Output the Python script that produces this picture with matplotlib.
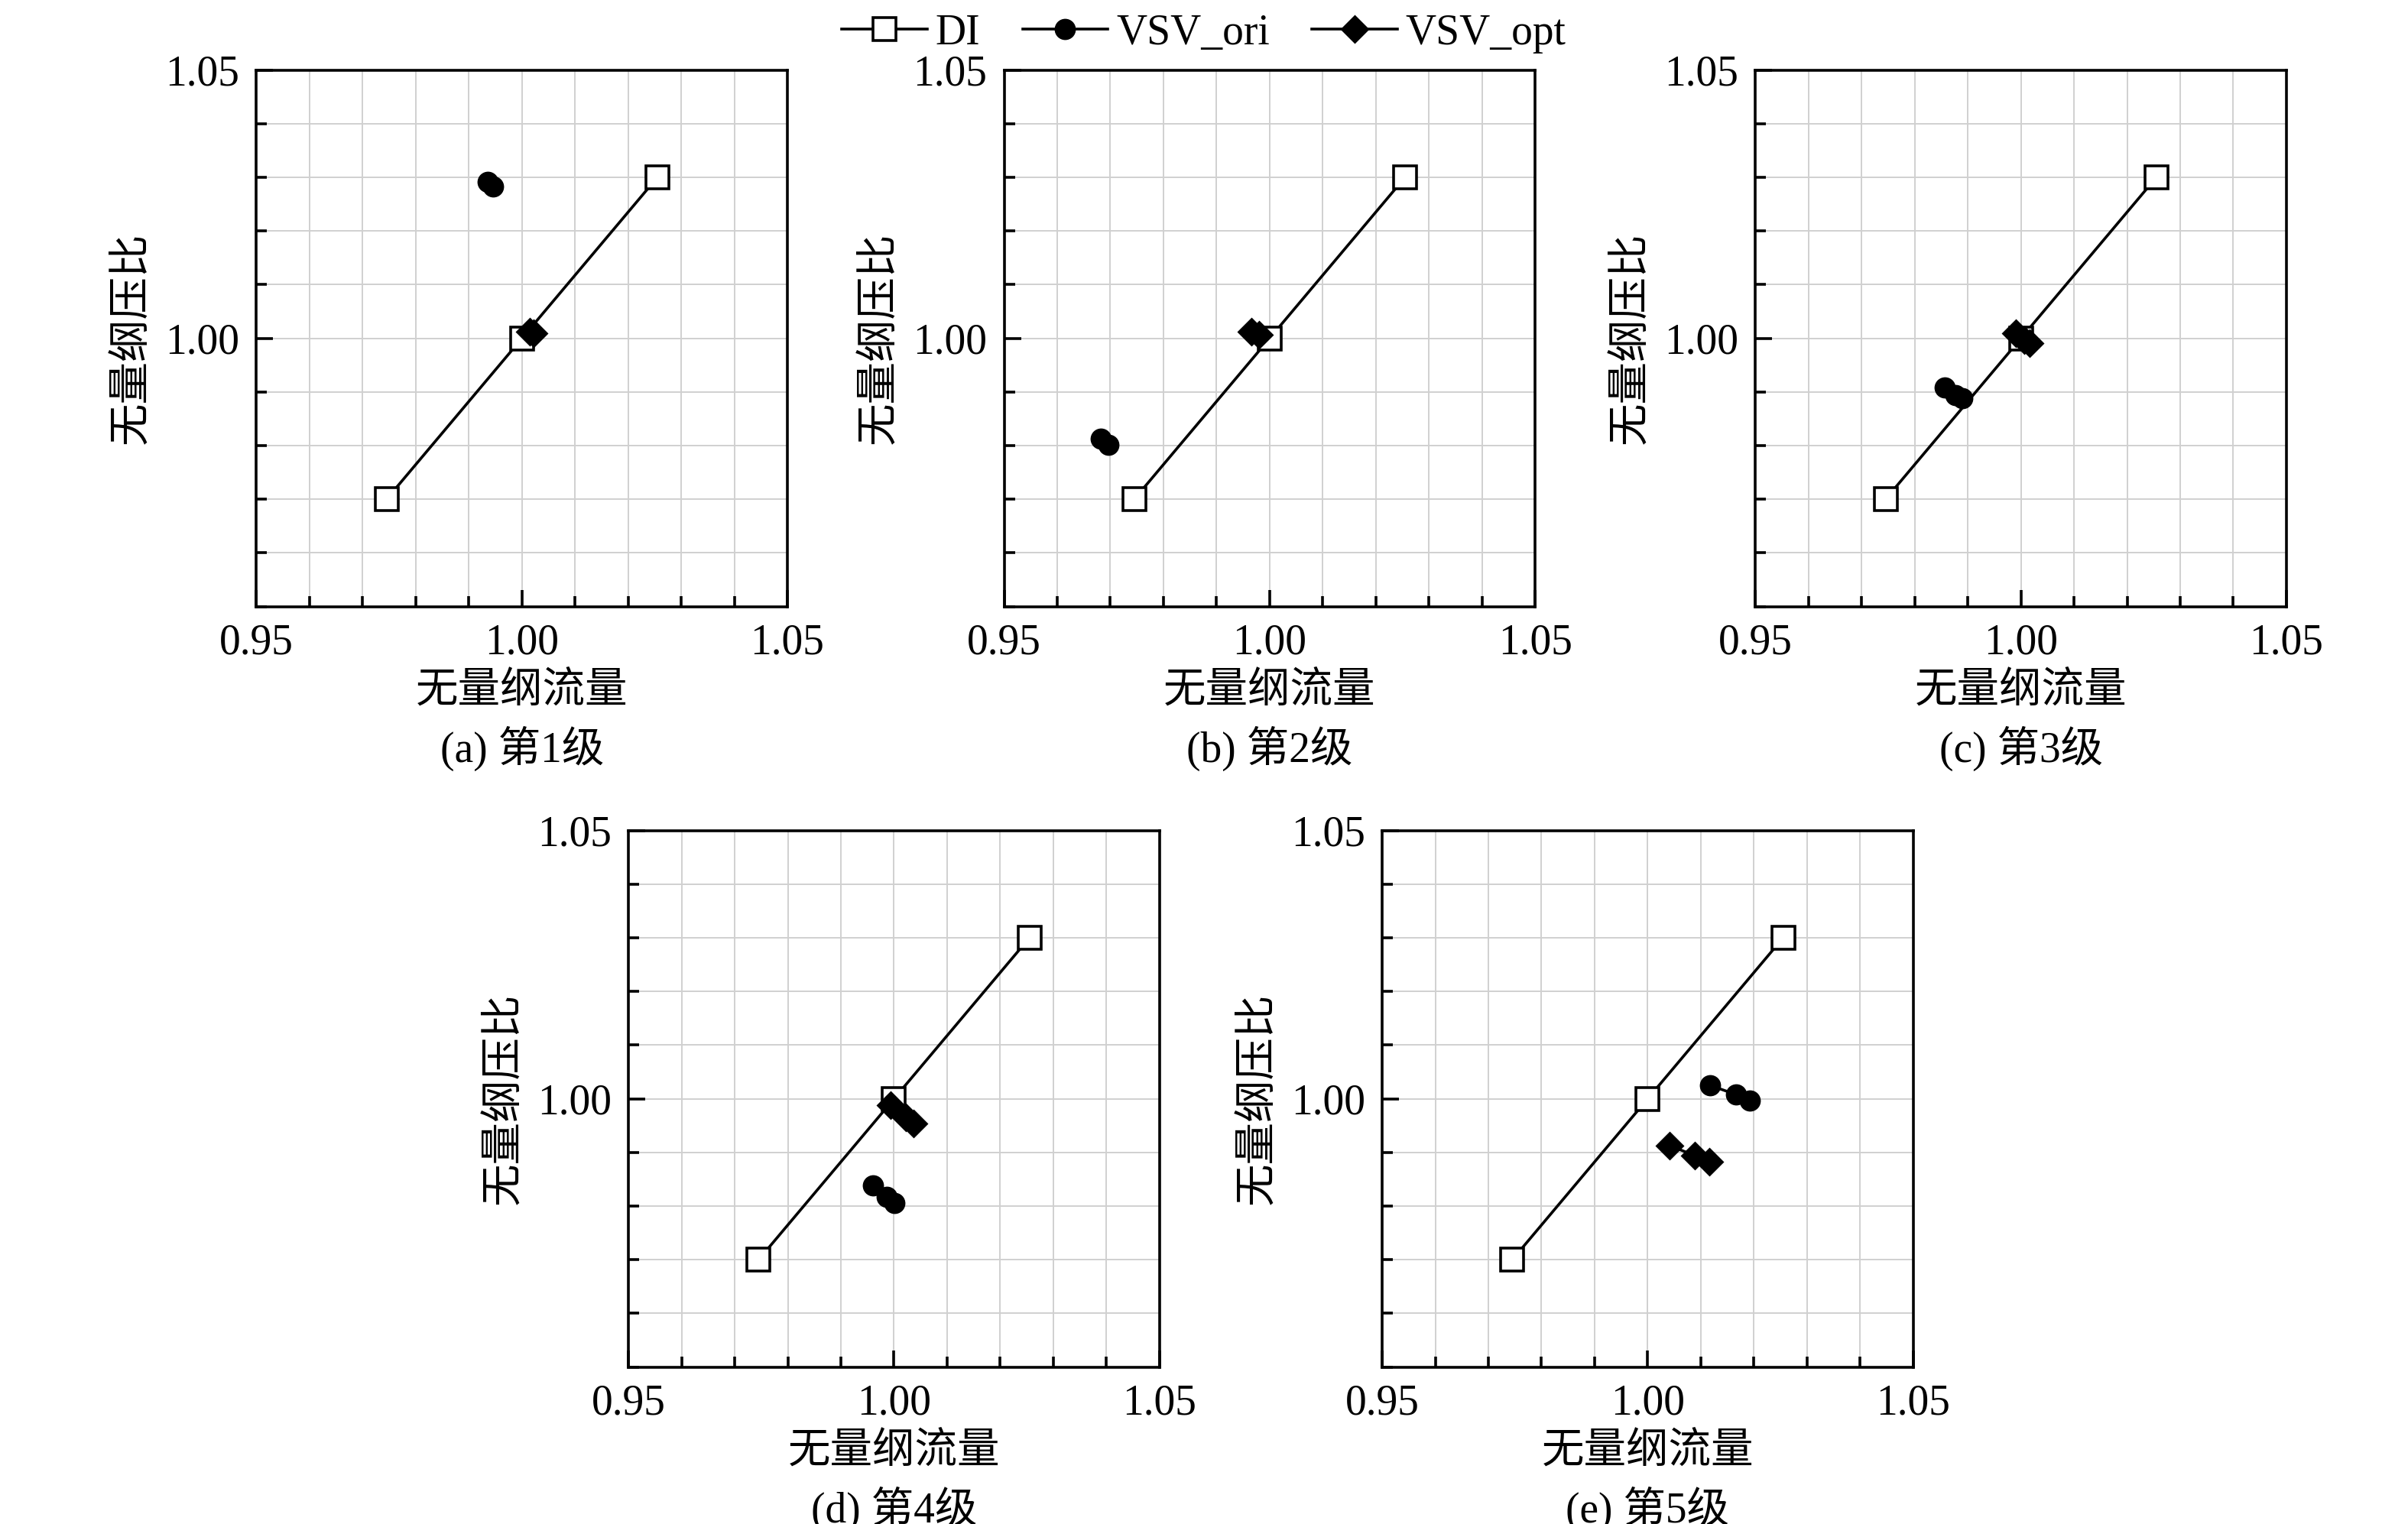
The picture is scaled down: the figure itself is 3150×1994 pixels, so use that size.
import matplotlib
matplotlib.use("Agg")
import matplotlib.pyplot as plt
from matplotlib.ticker import MultipleLocator

FAM = ['Liberation Serif', 'Noto Sans CJK SC']
plt.rcParams['font.family'] = FAM

di_x = [0.9745, 1.0, 1.0255]
di_y = [0.970, 1.0, 1.030]

ori_x = [[0.9936, 0.9945], [0.9682, 0.9697], [0.9857, 0.9877, 0.9889],
         [0.9960, 0.9987, 1.0001], [1.0118, 1.0166, 1.0193]]
ori_y = [[1.0292, 1.0283], [0.9813, 0.9801], [0.9909, 0.9894, 0.9888],
         [0.9838, 0.9817, 0.9806], [1.0025, 1.0008, 0.9996]]
opt_x = [[1.0015, 1.0022], [0.9966, 0.9980], [0.9990, 1.0007, 1.0016],
         [0.9993, 1.0022, 1.0037], [1.0041, 1.0089, 1.0116]]
opt_y = [[1.0012, 1.0009], [1.0013, 1.0006], [1.0009, 0.9997, 0.9991],
         [0.9988, 0.9965, 0.9954], [0.9913, 0.9894, 0.9883]]
captions = ['(a) 第1级', '(b) 第2级', '(c) 第3级', '(d) 第4级', '(e) 第5级']
xlabel = '无量纲流量'
ylabel = '无量纲压比'

fig = plt.figure(figsize=(15.75, 9.97), dpi=200)
pos = [(0.1065, 0.602), (0.417, 0.602), (0.729, 0.602), (0.261, 0.103), (0.574, 0.103)]
w, h = 0.2205, 0.352
FS = 20
for i, (l, b) in enumerate(pos):
    ax = fig.add_axes([l, b, w, h])
    ax.plot(di_x, di_y, '-', color='black', lw=1.3, marker='s', ms=11,
            mfc='white', mec='black', mew=1.3, label='DI')
    ax.plot(ori_x[i], ori_y[i], '-', color='black', lw=1.3, marker='o', ms=9,
            label='VSV_ori')
    ax.plot(opt_x[i], opt_y[i], '-', color='black', lw=1.3, marker='D', ms=8.5,
            label='VSV_opt')
    ax.set_xlim(0.95, 1.05)
    ax.set_ylim(0.95, 1.05)
    ax.set_xticks([0.95, 1.00, 1.05])
    ax.set_yticks([1.00, 1.05])
    ax.xaxis.set_minor_locator(MultipleLocator(0.01))
    ax.yaxis.set_minor_locator(MultipleLocator(0.01))
    ax.grid(True, which='both', color='#d0d0d0', lw=0.7)
    ax.set_axisbelow(True)
    ax.tick_params(which='major', direction='in', length=8, width=1.3,
                   labelsize=FS, pad=8)
    ax.tick_params(which='minor', direction='in', length=5, width=1.3)
    ax.set_xticklabels(['0.95', '1.00', '1.05'])
    ax.set_yticklabels(['1.00', '1.05'])
    for s in ax.spines.values():
        s.set_linewidth(1.3)
    ax.set_xlabel(xlabel, fontsize=FS, labelpad=4)
    ax.set_ylabel(ylabel, fontsize=FS, labelpad=6)
    ax.text(0.5, -0.265, captions[i], transform=ax.transAxes, ha='center',
            va='center', fontsize=FS)
    if i == 0:
        handles, labels = ax.get_legend_handles_labels()

fig.legend(handles, labels, loc='upper center', bbox_to_anchor=(0.5, 1.005),
           ncol=3, frameon=False, fontsize=FS, handlelength=2.0,
           columnspacing=1.0, handletextpad=0.2, borderaxespad=0.1)
fig.savefig('out.png', dpi=200)
